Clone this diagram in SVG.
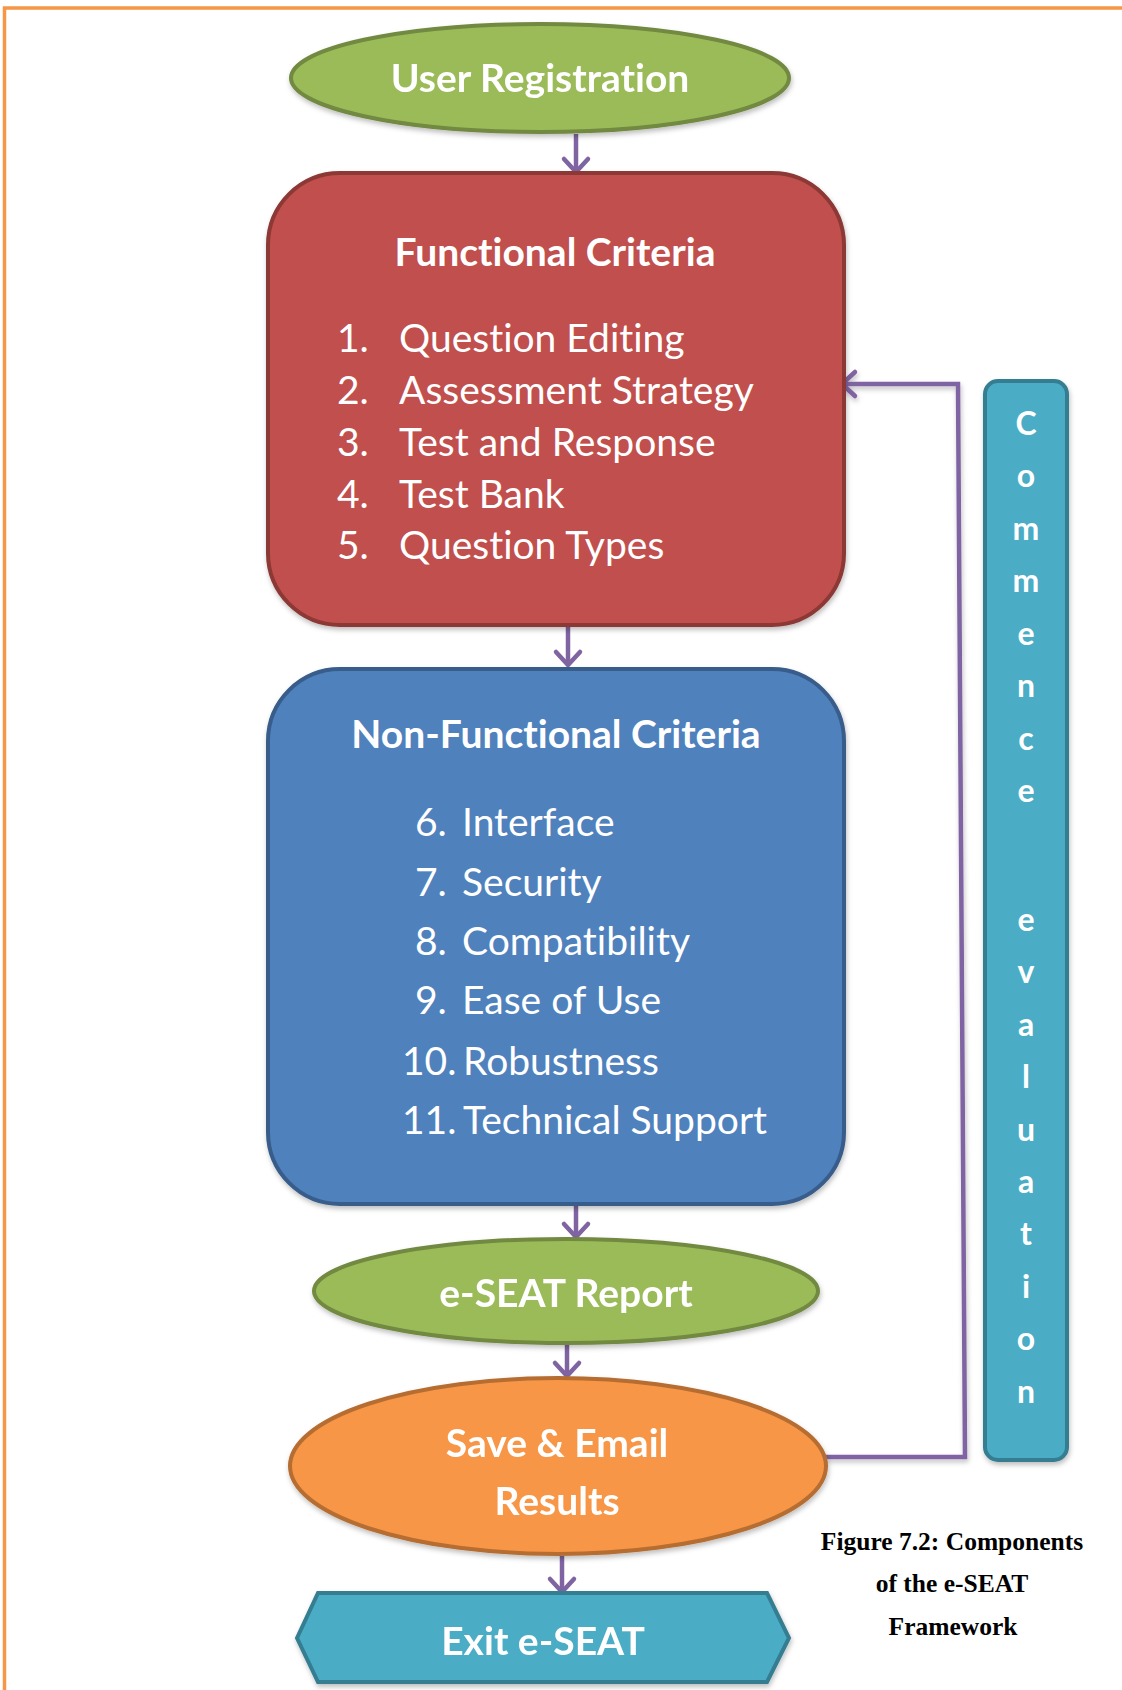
<svg xmlns="http://www.w3.org/2000/svg" width="1122" height="1690" viewBox="0 0 1122 1690">
<style>
.t{font-family:Lato,"Open Sans","Liberation Sans",sans-serif;fill:#fff;font-variant-ligatures:none}
.b{font-weight:bold;font-size:39px;text-anchor:middle}
.l{font-size:39px}
.v{font-family:Lato,"Open Sans","Liberation Sans",sans-serif;font-weight:bold;font-size:32px;fill:#fff;text-anchor:middle}
.cap{font-family:"Liberation Serif","Times New Roman",serif;font-weight:bold;font-size:25.5px;fill:#000;text-anchor:middle}
.c{fill:none;stroke:#8064A2;stroke-width:4.5}
</style>
<defs>
<marker id="ah" markerUnits="userSpaceOnUse" markerWidth="34" markerHeight="34" refX="17" refY="17" orient="auto" viewBox="0 0 34 34">
<path d="M4,5 L17,17 L4,29" fill="none" stroke="#8064A2" stroke-width="4.5" stroke-linecap="round" stroke-linejoin="round"/>
</marker>
<filter id="sh" x="-10%" y="-10%" width="120%" height="130%">
<feDropShadow dx="1" dy="3" stdDeviation="2.5" flood-color="#000" flood-opacity="0.25"/>
</filter>
</defs>
<rect x="4.5" y="8" width="1200" height="1800" fill="none" stroke="#F79646" stroke-width="3.5"/>

<g id="connectors">
<line class="c" x1="576" y1="134" x2="576" y2="172" marker-end="url(#ah)"/>
<line class="c" x1="568" y1="626" x2="568" y2="665" marker-end="url(#ah)"/>
<line class="c" x1="576" y1="1205" x2="576" y2="1237" marker-end="url(#ah)"/>
<line class="c" x1="567" y1="1345" x2="567" y2="1376" marker-end="url(#ah)"/>
<line class="c" x1="562" y1="1556" x2="562" y2="1592" marker-end="url(#ah)"/>
<polyline class="c" points="825,1457 965,1457 958,384 842,384" marker-end="url(#ah)" filter="url(#sh)"/>
</g>

<g id="user-registration" filter="url(#sh)">
<ellipse cx="540" cy="78" rx="249" ry="54" fill="#9BBB59" stroke="#71893F" stroke-width="4"/>
<text class="t b" x="540" y="92">User Registration</text>
</g>

<g id="functional-criteria">
<rect x="268" y="173" width="576" height="452" rx="72" ry="72" fill="#C0504D" stroke="#8C3836" stroke-width="4" filter="url(#sh)"/>
<text class="t b" x="555" y="266">Functional Criteria</text>
<g class="t l">
<text x="337" y="352">1.</text><text x="399" y="352">Question Editing</text>
<text x="337" y="404">2.</text><text x="399" y="404">Assessment Strategy</text>
<text x="337" y="456">3.</text><text x="399" y="456">Test and Response</text>
<text x="337" y="508">4.</text><text x="399" y="508">Test Bank</text>
<text x="337" y="559">5.</text><text x="399" y="559">Question Types</text>
</g>
</g>

<g id="non-functional-criteria">
<rect x="268" y="669" width="576" height="535" rx="72" ry="72" fill="#4F81BD" stroke="#385D8A" stroke-width="4" filter="url(#sh)"/>
<text class="t b" x="556" y="748">Non-Functional Criteria</text>
<g class="t l">
<text x="415" y="836">6.</text><text x="462" y="836">Interface</text>
<text x="415" y="896">7.</text><text x="462" y="896">Security</text>
<text x="415" y="955">8.</text><text x="462" y="955">Compatibility</text>
<text x="415" y="1014">9.</text><text x="462" y="1014">Ease of Use</text>
<text x="402" y="1075">10.</text><text x="463" y="1075">Robustness</text>
<text x="402" y="1134">11.</text><text x="463" y="1134">Technical Support</text>
</g>
</g>

<g id="eseat-report" filter="url(#sh)">
<ellipse cx="566" cy="1291" rx="252" ry="52" fill="#9BBB59" stroke="#71893F" stroke-width="4"/>
<text class="t b" x="566" y="1307">e-SEAT Report</text>
</g>

<g id="save-email" filter="url(#sh)">
<ellipse cx="558" cy="1466" rx="268" ry="88" fill="#F79646" stroke="#B66D31" stroke-width="4"/>
<text class="t b" x="557" y="1457">Save &amp; Email</text>
<text class="t b" x="557" y="1515">Results</text>
</g>

<g id="exit-eseat" filter="url(#sh)">
<polygon points="297,1638 318,1593 767,1593 789,1638 767,1682 318,1682" fill="#4BACC6" stroke="#357D91" stroke-width="4"/>
<text class="t b" x="543" y="1655">Exit e-SEAT</text>
</g>

<g id="commence-evaluation">
<rect x="985" y="381" width="82" height="1079" rx="13" ry="13" fill="#4BACC6" stroke="#357D91" stroke-width="4" filter="url(#sh)"/>
<text class="v" x="1026" y="435">C</text>
<text class="v" x="1026" y="487">o</text>
<text class="v" x="1026" y="540">m</text>
<text class="v" x="1026" y="592">m</text>
<text class="v" x="1026" y="645">e</text>
<text class="v" x="1026" y="697">n</text>
<text class="v" x="1026" y="750">c</text>
<text class="v" x="1026" y="802">e</text>
<text class="v" x="1026" y="931">e</text>
<text class="v" x="1026" y="983">v</text>
<text class="v" x="1026" y="1036">a</text>
<text class="v" x="1026" y="1088">l</text>
<text class="v" x="1026" y="1141">u</text>
<text class="v" x="1026" y="1193">a</text>
<text class="v" x="1026" y="1245">t</text>
<text class="v" x="1026" y="1298">i</text>
<text class="v" x="1026" y="1350">o</text>
<text class="v" x="1026" y="1403">n</text>
</g>

<g id="caption">
<text class="cap" x="952" y="1550">Figure 7.2: Components</text>
<text class="cap" x="952" y="1592">of the e-SEAT</text>
<text class="cap" x="953" y="1635">Framework</text>
</g>
</svg>
